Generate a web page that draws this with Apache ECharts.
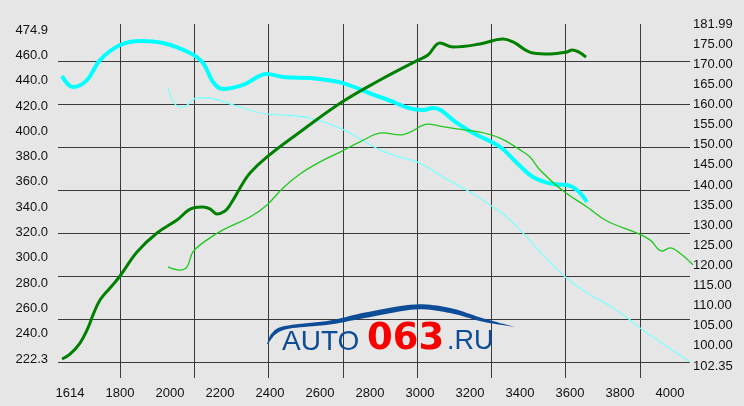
<!DOCTYPE html>
<html>
<head>
<meta charset="utf-8">
<script src="https://cdn.jsdelivr.net/npm/echarts@6/dist/echarts.min.js"></script>
<style>
html,body{margin:0;padding:0;background:#e6e6e6;}
#c{width:744px;height:406px;}
</style>
</head>
<body>
<div id="c"></div>
<script>
// ---- tick labels ----
var xLabels = ['1614','1800','2000','2200','2400','2600','2800','3000','3200','3400','3600','3800','4000'];
var leftLabels = ['222.3','240.0','260.0','280.0','300.0','320.0','340.0','360.0','380.0','400.0','420.0','440.0','460.0','474.9'];
var rightLabels = ['102.35','100.00','105.00','110.00','115.00','120.00','125.00','130.00','135.00','140.00','145.00','150.00','155.00','160.00','165.00','170.00','175.00','181.99'];

// ---- series (rpm, value) ----
var torqueARpm = [1568,1600,1640,1672,1692,1720,1760,1800,1868,1948,2028,2092,2132,2160,2188,2220,2240,2292,2320,2388,2520,2688,2840,2992,3032,3080,3132,3240,3332,3372,3452,3520,3588,3608,3664];
var torqueAVal = [219.7,223.6,232.3,244.2,254.5,266.3,275.8,285.3,304.3,319.3,329.6,339.1,339.8,338.3,334.3,336.7,341.4,358.8,366.7,379.4,399.1,422.8,440.2,456.0,460.0,469.5,466.3,468.7,472.6,470.3,461.6,460.8,462.4,464.0,458.4];

var torqueBRpm = [1568,1612,1668,1720,1800,1880,1972,2080,2132,2172,2212,2292,2388,2452,2560,2600,2688,2852,3012,3052,3148,3212,3320,3388,3452,3532,3588,3628,3668];
var torqueBVal = [443.4,434.7,440.2,456.0,467.9,471.1,469.5,461.6,453.7,438.7,433.1,436.3,445.0,442.6,441.8,441.0,437.9,426.0,416.5,418.1,406.2,398.3,387.3,374.6,363.6,358.0,357.2,353.3,343.8];

var powerBRpm = [1992,2028,2052,2108,2148,2252,2388,2452,2560,2680,2840,2920,3000,3092,3200,3292,3348,3412,3492,3580,3668,3772,3840,3880,4080];
var powerBVal = [163.8,159.3,159.1,161.3,161.3,159.6,157.3,157.1,156.3,153.8,148.4,146.6,145.1,141.6,137.9,134.2,131.7,127.7,122.2,116.8,112.8,109.1,106.1,104.1,95.6];

var powerARpm = [1992,2040,2068,2092,2148,2212,2320,2388,2452,2520,2600,2688,2760,2852,2920,2960,3032,3080,3148,3240,3320,3400,3440,3480,3572,3668,3748,3868,3920,3968,4000,4040,4092];
var powerAVal = [119.3,118.5,119.3,123.0,126.0,128.5,131.7,134.7,138.9,142.4,145.4,148.1,150.4,152.6,152.1,152.8,154.8,154.3,153.6,152.8,151.3,148.4,146.6,143.4,138.2,134.2,130.7,127.7,126.0,123.2,124.0,122.7,119.8];

function pairs(xs, ys){ return xs.map(function(x,i){ return [x, ys[i]]; }); }

// logo swoosh outline (decoration, not data): catmull-rom sampled
function spline(pts, steps){
  var out = [];
  for (var i = 0; i < pts.length - 1; i++){
    var p0 = pts[Math.max(i-1,0)], p1 = pts[i], p2 = pts[i+1], p3 = pts[Math.min(i+2, pts.length-1)];
    for (var s = 0; s < steps; s++){
      var t = s/steps, t2 = t*t, t3 = t2*t;
      out.push([0,1].map(function(k){
        return 0.5*((2*p1[k]) + (-p0[k]+p2[k])*t + (2*p0[k]-5*p1[k]+4*p2[k]-p3[k])*t2 + (-p0[k]+3*p1[k]-3*p2[k]+p3[k])*t3);
      }));
    }
  }
  out.push(pts[pts.length-1]);
  return out;
}
var swooshTop = [[267,344],[272,333],[285,326],[330,320.5],[365,312.5],[415,304.5],[450,308],[482,318],[515,327]];
var swooshBot = [[515,327],[482,321.5],[450,313],[415,309.5],[365,318],[330,324.5],[290,328.5],[276,334],[268,344]];
var swooshPts = spline(swooshTop, 10).concat(spline(swooshBot, 10));

var FONT = "'Liberation Sans', Arial, sans-serif";
var lbl = {color:'#111', fontSize:13, fontFamily:FONT};
var gridColor = '#3a3a3a';

var chart = echarts.init(document.getElementById('c'), null, {renderer:'canvas'});

var option = {
  backgroundColor:'#e6e6e6',
  animation:false,
  grid:[
    {left:62, right:51, top:26, bottom:28},          // 0 data
    {left:58, right:54, top:61, bottom:44},          // 1 horizontal lines
    {left:120, right:104, top:24, bottom:28},        // 2 vertical lines
    {left:56, right:100, top:30, bottom:47},         // 3 left labels
    {left:100, right:59, top:24, bottom:40},         // 4 right labels
    {left:70, right:74, top:26, bottom:28}           // 5 bottom labels
  ],
  xAxis:[
    {gridIndex:0, type:'value', min:1568, max:4092, show:false},
    {gridIndex:1, type:'value', min:0, max:1, show:false},
    {gridIndex:2, type:'value', min:0, max:7, interval:1,
      axisLine:{show:false}, axisTick:{show:false}, axisLabel:{show:false},
      splitLine:{show:true, lineStyle:{color:gridColor, width:1}}},
    {gridIndex:3, type:'value', min:0, max:1, show:false},
    {gridIndex:4, type:'value', min:0, max:1, show:false},
    {gridIndex:5, type:'category', data:xLabels, boundaryGap:false,
      axisLine:{show:false}, axisTick:{show:false}, splitLine:{show:false},
      axisLabel:Object.assign({interval:0, margin:9}, lbl)}
  ],
  yAxis:[
    {gridIndex:0, type:'value', min:204.67, max:482.92, show:false},
    {gridIndex:0, type:'value', min:91.64, max:179.21, show:false, position:'right'},
    {gridIndex:1, type:'value', min:0, max:7, interval:1,
      axisLine:{show:false}, axisTick:{show:false}, axisLabel:{show:false},
      splitLine:{show:true, lineStyle:{color:gridColor, width:1}}},
    {gridIndex:2, type:'value', min:0, max:1, show:false},
    {gridIndex:3, type:'category', data:leftLabels, boundaryGap:false, position:'left',
      axisLine:{show:false}, axisTick:{show:false}, splitLine:{show:false},
      axisLabel:Object.assign({interval:0, margin:8}, lbl)},
    {gridIndex:4, type:'category', data:rightLabels, boundaryGap:false, position:'right',
      axisLine:{show:false}, axisTick:{show:false}, splitLine:{show:false},
      axisLabel:Object.assign({interval:0, margin:8}, lbl)},
    {gridIndex:5, type:'value', min:0, max:1, show:false}
  ],
  series:[
    {type:'line', xAxisIndex:0, yAxisIndex:0, data:pairs(torqueBRpm, torqueBVal),
      smooth:0.4, showSymbol:false, silent:true, lineStyle:{color:'#00ffff', width:4}, z:3},
    {type:'line', xAxisIndex:0, yAxisIndex:1, data:pairs(powerBRpm, powerBVal),
      smooth:0.4, showSymbol:false, silent:true, lineStyle:{color:'#80ffff', width:1.3}, z:3},
    {type:'line', xAxisIndex:0, yAxisIndex:0, data:pairs(torqueARpm, torqueAVal),
      smooth:0.4, showSymbol:false, silent:true, lineStyle:{color:'#008000', width:3}, z:4},
    {type:'line', xAxisIndex:0, yAxisIndex:1, data:pairs(powerARpm, powerAVal),
      smooth:0.4, showSymbol:false, silent:true, lineStyle:{color:'#1ec81e', width:1.3}, z:4}
  ],
  graphic:[
    {type:'polygon', z:10, silent:true, shape:{points:swooshPts}, style:{fill:'#0d4c96'}},
    {type:'text', z:10, silent:true, x:282, y:342,
      style:{text:'AUTO', font:"28px 'Liberation Sans', Arial, sans-serif", fill:'#0d4c96', textVerticalAlign:'middle', textAlign:'left'}},
    {type:'text', z:10, silent:true, x:367, y:339,
      style:{text:'063', font:"bold 37px 'DejaVu Sans', sans-serif", fill:'#f80000', textVerticalAlign:'middle', textAlign:'left'}},
    {type:'text', z:10, silent:true, x:447, y:342,
      style:{text:'.RU', font:"27px 'Liberation Sans', Arial, sans-serif", fill:'#0d4c96', textVerticalAlign:'middle', textAlign:'left'}}
  ]
};
chart.setOption(option);
</script>
</body>
</html>
